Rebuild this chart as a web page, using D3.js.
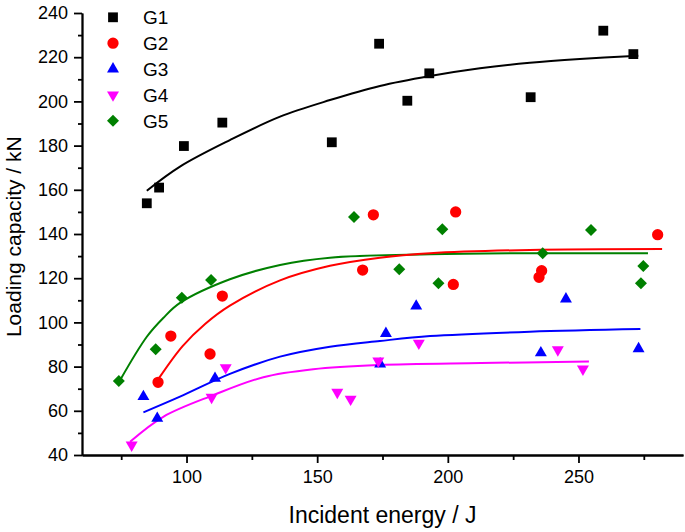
<!DOCTYPE html>
<html>
<head>
<meta charset="utf-8">
<script src="https://cdn.jsdelivr.net/npm/d3@7"></script>
<style>
  body { margin: 0; background: #fff; }
  svg { font-family: "Liberation Sans", Arial, sans-serif; }
  .axis path, .axis line { stroke: #000; stroke-width: 1.8; }
  .axis text { font-size: 18px; fill: #000; }
  .fit { fill: none; stroke-width: 2; }
</style>
</head>
<body>
<svg></svg>
<script>
// measured points [incident energy J, loading capacity kN]
var g1 = [[84.8,153.9],[89.5,161.0],[99.0,179.8],[113.7,190.4],[155.6,181.5],[173.7,226.1],
          [184.5,200.3],[192.9,212.7],[231.7,201.9],[259.5,232.0],[271.0,221.4]];
var g2 = [[89.1,72.9],[94.0,93.8],[109.0,85.7],[113.7,111.9],[167.4,123.7],[171.5,148.7],
          [203.0,150.0],[202.1,117.2],[235.9,123.4],[234.9,120.4],[280.3,139.7]];
var g3 = [[83.5,66.4],[88.8,56.6],[110.9,74.7],[174.1,81.2],[176.3,95.0],[187.9,107.4],
          [235.6,86.2],[245.2,110.6],[273.0,88.1]];
var g4 = [[79.0,44.5],[109.6,66.1],[115.0,79.5],[157.7,68.4],[162.8,65.3],[173.4,82.5],
          [188.9,90.6],[242.1,87.6],[251.7,78.9]];
var g5 = [[74.1,73.5],[88.2,87.8],[98.2,111.2],[109.4,119.2],[164.1,147.7],[181.4,124.0],
          [196.4,117.7],[197.9,142.1],[236.3,131.3],[254.8,141.8],[274.8,125.5],[273.9,117.7]];

// fitted curves
var g1Fit = [[84.8,159.6],[97.5,170.5],[116.6,182.5],[135.8,193.1],[154.9,200.6],[174.0,207.0],
             [193.2,211.5],[212.3,215.0],[231.4,217.5],[250.5,219.2],[272.9,220.7]];
var g2Fit = [[89.4,74.7],[98.5,89.3],[107.1,99.3],[116.6,107.6],[135.8,119.0],[154.9,125.6],
             [174.0,129.3],[193.2,131.3],[231.4,132.8],[282.0,133.2]];
var g3Fit = [[83.5,59.3],[97.5,66.4],[116.6,76.7],[135.8,84.5],[154.9,89.0],[174.0,91.6],
             [193.2,93.8],[231.4,95.8],[273.7,97.0]];
var g4Fit = [[78.4,46.0],[91.1,57.3],[110.3,67.1],[129.4,75.2],[148.5,78.8],[173.4,80.7],
             [212.7,81.6],[254.0,82.3]];
var g5Fit = [[74.4,73.5],[84.8,93.5],[91.1,102.0],[97.5,108.8],[116.6,119.5],[135.8,126.0],
             [154.9,129.3],[193.2,130.8],[231.4,131.3],[276.6,131.3]];

var groupNames = ["G1", "G2", "G3", "G4", "G5"];
var xMajor = [100, 150, 200, 250];
var xMinor = [75, 125, 175, 225, 275];
var yMajor = [40, 60, 80, 100, 120, 140, 160, 180, 200, 220, 240];
var yMinor = [50, 70, 90, 110, 130, 150, 170, 190, 210, 230];

var svgWidth = 685, svgHeight = 532;
var margin = { top: 13, right: 2, bottom: 77, left: 82 };
var width = svgWidth - margin.left - margin.right;
var height = svgHeight - margin.top - margin.bottom;

var svg = d3.select("svg").attr("width", svgWidth).attr("height", svgHeight);
var chart = svg.append("g").attr("transform", `translate(${margin.left},${margin.top})`);

var x = d3.scaleLinear().domain([60, 290]).range([0, width]);
var y = d3.scaleLinear().domain([40, 240]).range([height, 0]);

var groups = [
  { name: groupNames[0], pts: g1, fit: g1Fit, color: "#000000", sym: d3.symbolSquare, size: 96, rot: 0 },
  { name: groupNames[1], pts: g2, fit: g2Fit, color: "#ff0000", sym: d3.symbolCircle, size: 100, rot: 0 },
  { name: groupNames[2], pts: g3, fit: g3Fit, color: "#0000ff", sym: d3.symbolTriangle, size: 62, rot: 0 },
  { name: groupNames[3], pts: g4, fit: g4Fit, color: "#ff00ff", sym: d3.symbolTriangle, size: 62, rot: 180 },
  { name: groupNames[4], pts: g5, fit: g5Fit, color: "#008000", sym: d3.symbolSquare, size: 72, rot: 45 }
];

//axes
chart.append("g").attr("class", "axis")
  .attr("transform", "translate(0," + height + ")")
  .call(d3.axisBottom(x).tickValues(xMinor).tickSize(5).tickSizeOuter(0).tickFormat(""));
chart.append("g").attr("class", "axis")
  .attr("transform", "translate(0," + height + ")")
  .call(d3.axisBottom(x).tickValues(xMajor).tickSize(8).tickSizeOuter(0).tickPadding(7.5).tickFormat(d3.format("d")));
chart.append("g").attr("class", "axis")
  .call(d3.axisLeft(y).tickValues(yMinor).tickSize(4).tickSizeOuter(0).tickFormat(""));
chart.append("g").attr("class", "axis")
  .call(d3.axisLeft(y).tickValues(yMajor).tickSize(8).tickSizeOuter(0).tickPadding(6).tickFormat(d3.format("d")));

//fit curves
var line = d3.line()
  .x(function(d) { return x(d[0]); })
  .y(function(d) { return y(d[1]); })
  .curve(d3.curveCatmullRom.alpha(0.5));

groups.slice().reverse().forEach(function(g) {
  chart.append("path")
    .attr("class", "fit")
    .attr("stroke", g.color)
    .attr("d", line(g.fit));
});

//points
groups.forEach(function(g) {
  chart.selectAll(null)
    .data(g.pts)
    .enter()
    .append("path")
    .attr("d", d3.symbol().type(g.sym).size(g.size))
    .attr("fill", g.color)
    .attr("transform", (d) => `translate(${x(d[0])},${y(d[1])}) rotate(${g.rot})`);
});

//legend
var legend = svg.append("g").attr("transform", "translate(113,17.3)");
groups.forEach(function(g, i) {
  legend.append("path")
    .attr("d", d3.symbol().type(g.sym).size(g.size))
    .attr("fill", g.color)
    .attr("transform", `translate(0,${i * 25.85}) rotate(${g.rot})`);
  legend.append("text")
    .attr("x", 30)
    .attr("y", i * 25.85 + 7)
    .style("font-size", "19px")
    .text(g.name);
});

//labels
svg.append("text")
  .attr("x", margin.left + width / 2)
  .attr("y", 523)
  .attr("text-anchor", "middle")
  .style("font-size", "23px")
  .text("Incident energy / J");

svg.append("text")
  .attr("transform", "translate(21,236.7) rotate(-90)")
  .attr("text-anchor", "middle")
  .style("font-size", "21px")
  .text("Loading capacity / kN");
</script>
</body>
</html>
